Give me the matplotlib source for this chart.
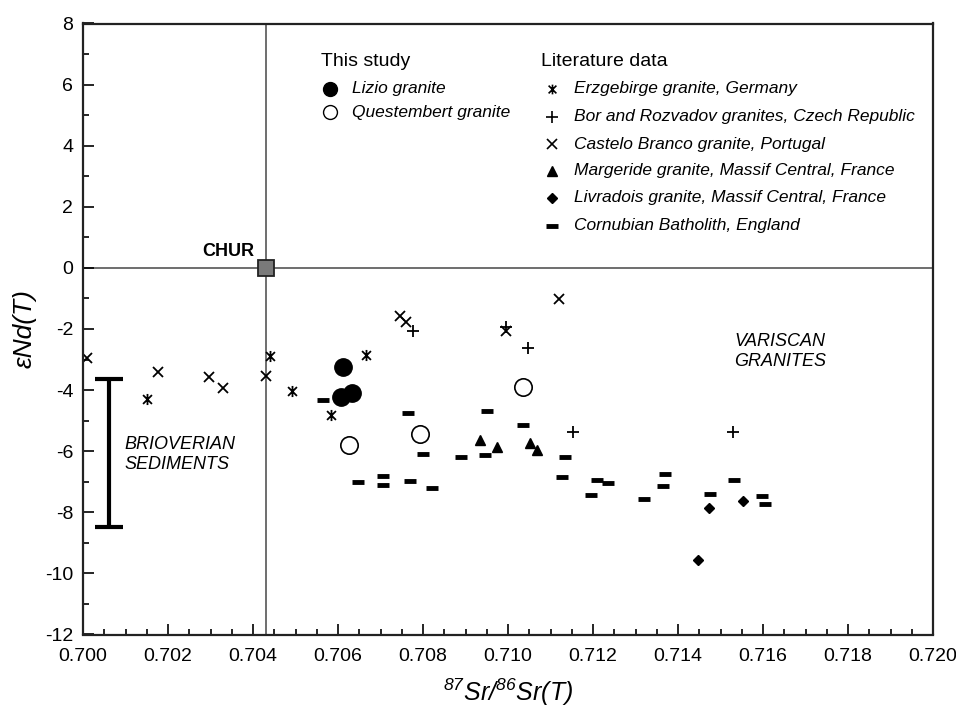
import matplotlib
matplotlib.use("Agg")
import matplotlib.pyplot as plt
from matplotlib.path import Path
from matplotlib.ticker import MultipleLocator

plt.rcParams['font.family'] = ['Liberation Sans', 'DejaVu Sans']
plt.rcParams['mathtext.fontset'] = 'custom'
plt.rcParams['mathtext.rm'] = 'Liberation Sans:italic'
plt.rcParams['mathtext.it'] = 'Liberation Sans:italic'

# ---------------- data ----------------
lizio_x = [0.70611, 0.70606, 0.70632]
lizio_y = [-3.25, -4.21, -4.10]

quest_x = [0.70627, 0.70793, 0.71036]
quest_y = [-5.79, -5.44, -3.90]

erz_x = [0.70150, 0.70440, 0.70492, 0.70583, 0.70666]
erz_y = [-4.30, -2.88, -4.03, -4.81, -2.86]

bor_x = [0.70777, 0.70995, 0.71048, 0.71154, 0.71529]
bor_y = [-2.05, -1.92, -2.63, -5.38, -5.36]

cast_x = [0.70010, 0.70176, 0.70296, 0.70329, 0.70430, 0.70746, 0.70760, 0.70995, 0.71120]
cast_y = [-2.96, -3.41, -3.58, -3.92, -3.53, -1.56, -1.76, -2.05, -1.02]

marg_x = [0.70934, 0.70973, 0.71052, 0.71069]
marg_y = [-5.62, -5.85, -5.74, -5.96]

livr_x = [0.71473, 0.71554, 0.71448]
livr_y = [-7.87, -7.62, -9.57]

corn_x = [0.70565, 0.70764, 0.70801, 0.70648, 0.70705, 0.70705, 0.70769, 0.70822,
          0.70889, 0.70946, 0.70951, 0.71035, 0.71134, 0.71126, 0.71210, 0.71236,
          0.71195, 0.71369, 0.71364, 0.71320, 0.71475, 0.71532, 0.71597, 0.71605]
corn_y = [-4.34, -4.76, -6.10, -7.01, -6.80, -7.10, -6.96, -7.21,
          -6.19, -6.14, -4.69, -5.14, -6.19, -6.83, -6.94, -7.03,
          -7.45, -6.75, -7.14, -7.57, -7.39, -6.94, -7.46, -7.73]

chur_x = 0.7043
chur_y = 0.0

brio_x = 0.70062
brio_top = -3.64
brio_bottom = -8.48

xticks = [0.700, 0.702, 0.704, 0.706, 0.708, 0.710, 0.712, 0.714, 0.716, 0.718, 0.720]
yticks = [8, 6, 4, 2, 0, -2, -4, -6, -8, -10, -12]

# custom asterisk marker: x with vertical bar
ast_marker = Path([(-1, -1), (1, 1), (-1, 1), (1, -1), (0, -1.25), (0, 1.25)],
                  [Path.MOVETO, Path.LINETO, Path.MOVETO, Path.LINETO, Path.MOVETO, Path.LINETO])

fig = plt.figure(figsize=(9.56, 7.07), dpi=100)
ax = fig.add_axes([83/956, 1-634.5/707, 850/956, 611/707])

ax.set_xlim(0.700, 0.720)
ax.set_ylim(-12, 8)

# CHUR reference lines
ax.axhline(chur_y, color='#555555', lw=1.2, zorder=1)
ax.axvline(chur_x, color='#555555', lw=1.2, zorder=1)
ax.plot([chur_x], [chur_y], marker='s', ms=11, mfc='#7a7a7a', mec='#222222', mew=1.3, zorder=5)
ax.annotate('CHUR', (chur_x, chur_y), xytext=(-8, 12), textcoords='offset points',
            ha='right', va='center', fontsize=13, fontweight='bold')

# Brioverian sediments bar
ax.errorbar([brio_x], [(brio_top + brio_bottom) / 2], yerr=[(brio_top - brio_bottom) / 2],
            fmt='none', ecolor='black', elinewidth=3, capsize=10, capthick=3)
ax.text(0.70098, -6.12, 'BRIOVERIAN\nSEDIMENTS', style='italic', fontsize=13,
        ha='left', va='center', linespacing=1.25)
ax.text(0.71532, -2.73, 'VARISCAN\nGRANITES', style='italic', fontsize=13,
        ha='left', va='center', linespacing=1.25)

# data series
ax.plot(cast_x, cast_y, ls='none', marker='x', ms=7.5, mec='black', mew=1.3)
ax.plot(erz_x, erz_y, ls='none', marker=ast_marker, ms=8, mec='black', mew=1.3)
ax.plot(bor_x, bor_y, ls='none', marker='+', ms=8, mec='black', mew=1.3)
ax.plot(marg_x, marg_y, ls='none', marker='^', ms=7.5, mfc='black', mec='black')
ax.plot(livr_x, livr_y, ls='none', marker='D', ms=5.5, mfc='black', mec='black')
ax.plot(corn_x, corn_y, ls='none', marker='_', ms=9, mec='black', mew=3.5)
ax.plot(lizio_x, lizio_y, ls='none', marker='o', ms=12.5, mfc='black', mec='black', zorder=4)
ax.plot(quest_x, quest_y, ls='none', marker='o', ms=12.5, mfc='white', mec='black', mew=1.2, zorder=4)

# axes styling
ax.set_xticks(xticks)
ax.set_xticklabels(['%.3f' % v for v in xticks])
ax.set_yticks(yticks)
ax.set_yticklabels(['%d' % v for v in yticks])
ax.xaxis.set_minor_locator(MultipleLocator(0.0005))
ax.yaxis.set_minor_locator(MultipleLocator(1))
ax.tick_params(which='both', direction='in', top=False, right=False, labelsize=14, width=1.2)
ax.tick_params(which='major', length=8)
ax.tick_params(which='minor', length=4)
ax.tick_params(axis='x', which='major', pad=10)
ax.tick_params(axis='y', which='major', pad=7)
for sp in ax.spines.values():
    sp.set_linewidth(1.6)
    sp.set_color('#222222')

ax.set_xlabel(r'$^{87}$Sr/$^{86}$Sr(T)', fontsize=18, style='italic', labelpad=8)
ax.set_ylabel('εNd(T)', fontsize=19, style='italic', labelpad=6)

# legends (manual, axes coordinates)
def axc(px, py):
    return ((px - 83) / 850, (634.5 - py) / 611)

tx, ty = axc(321, 62)
ax.text(tx, ty, 'This study', transform=ax.transAxes, fontsize=14, ha='left', va='center')
leg1 = [('Lizio granite', dict(marker='o', ms=10, mfc='black', mec='black'), 89),
        ('Questembert granite', dict(marker='o', ms=10, mfc='white', mec='black', mew=1.0), 112)]
for label, kw, py in leg1:
    mx, my = axc(330, py)
    ax.plot([mx], [my], transform=ax.transAxes, ls='none', clip_on=False, **kw)
    lx, _ = axc(352, py)
    ax.text(lx, my, label, transform=ax.transAxes, fontsize=12.5, style='italic', ha='left', va='center')

tx, ty = axc(541, 62)
ax.text(tx, ty, 'Literature data', transform=ax.transAxes, fontsize=14, ha='left', va='center')
leg2 = [('Erzgebirge granite, Germany', dict(marker=ast_marker, ms=7, mec='black', mew=1.2), 89),
        ('Bor and Rozvadov granites, Czech Republic', dict(marker='+', ms=8, mec='black', mew=1.2), 116.5),
        ('Castelo Branco granite, Portugal', dict(marker='x', ms=7, mec='black', mew=1.2), 144),
        ('Margeride granite, Massif Central, France', dict(marker='^', ms=7, mfc='black', mec='black'), 171),
        ('Livradois granite, Massif Central, France', dict(marker='D', ms=5, mfc='black', mec='black'), 198),
        ('Cornubian Batholith, England', dict(marker='_', ms=8, mec='black', mew=3.5), 226)]
for label, kw, py in leg2:
    mx, my = axc(552, py)
    ax.plot([mx], [my], transform=ax.transAxes, ls='none', clip_on=False, **kw)
    lx, _ = axc(574, py)
    ax.text(lx, my, label, transform=ax.transAxes, fontsize=12.5, style='italic', ha='left', va='center')

fig.savefig('out.png', dpi=100)
